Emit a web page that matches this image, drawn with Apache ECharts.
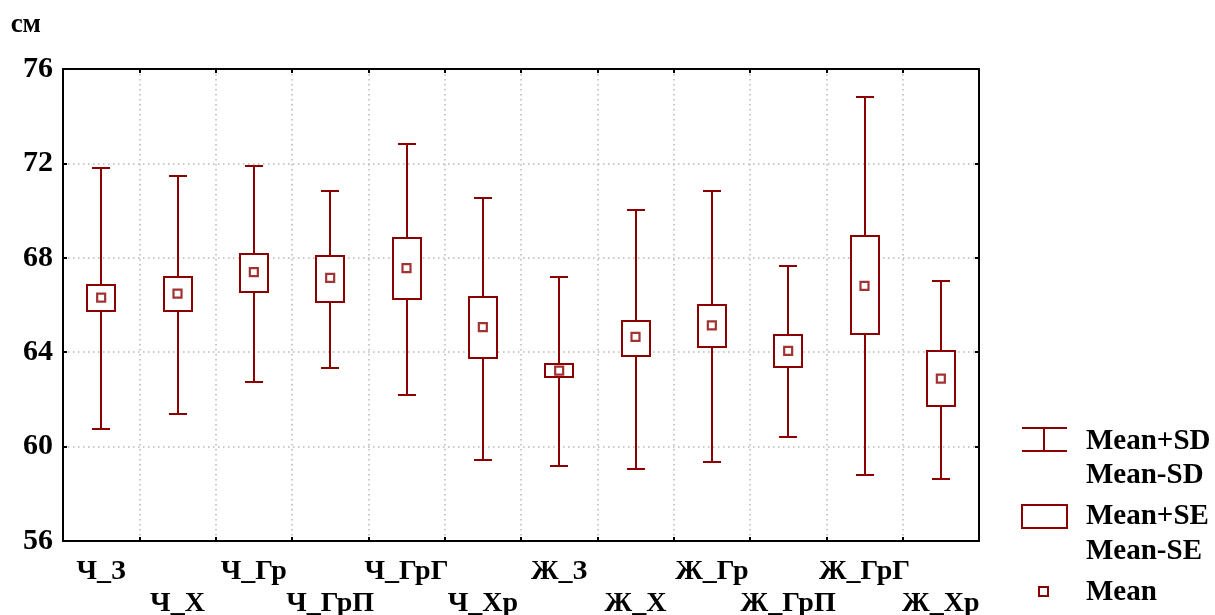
<!DOCTYPE html>
<html>
<head>
<meta charset="utf-8">
<script src="https://cdn.jsdelivr.net/npm/echarts@6/dist/echarts.min.js"></script>
<style>
html,body{margin:0;padding:0;background:#fff;}
#chart{width:1215px;height:615px;}
</style>
</head>
<body>
<div id="chart"></div>
<script>
const categories = ['Ч_З','Ч_Х','Ч_Гр','Ч_ГрП','Ч_ГрГ','Ч_Хр','Ж_З','Ж_Х','Ж_Гр','Ж_ГрП','Ж_ГрГ','Ж_Хр'];
const meanVals = [66.31,66.48,67.39,67.15,67.56,65.06,63.22,64.65,65.14,64.06,66.81,62.88];
const seLow    = [65.76,65.76,66.53,66.12,66.27,63.77,62.94,63.86,64.20,63.37,64.78,61.70];
const seHigh   = [66.84,67.18,68.16,68.08,68.83,66.33,63.51,65.34,65.99,64.75,68.93,64.07];
const sdLow    = [60.74,61.40,62.74,63.31,62.19,59.45,59.18,59.07,59.33,60.39,58.78,58.62];
const sdHigh   = [71.79,71.48,71.89,70.84,72.81,70.53,67.19,70.03,70.82,67.66,74.80,67.01];
const yMin = 56, yMax = 76, yStep = 4;
const unitLabel = 'см';
const legendLabels = ['Mean+SD','Mean-SD','Mean+SE','Mean-SE','Mean'];

const C = '#8B0000';
const FONT = '"Liberation Serif","Times New Roman",serif';

const chart = echarts.init(document.getElementById('chart'), null, {renderer:'canvas'});

const sdData = categories.map((c,i)=>[i, sdLow[i], sdHigh[i]]);
const seData = categories.map((c,i)=>[i, seLow[i], seHigh[i]]);

const gridLine = {show:true, lineStyle:{color:'#b8b8b8', width:1.5, type:[1.5,3.5]}};
const R = v => Math.round(v);

const option = {
  animation:false,
  backgroundColor:'#fff',
  grid:{left:63, right:236, top:69, bottom:74, containLabel:false, outerBoundsMode:'none'},
  xAxis:[{
    type:'category', data:categories, position:'bottom', boundaryGap:true,
    axisLine:{show:true, lineStyle:{color:'#000', width:2}},
    axisTick:{show:true, inside:true, length:4, lineStyle:{color:'#000', width:2}},
    splitLine:gridLine,
    axisLabel:{interval:0, color:'#000', fontFamily:FONT, fontWeight:'bold', fontSize:28,
      lineHeight:32, margin:15,
      formatter:(v,i)=> (i%2 ? '\n'+v : v)}
  },{
    type:'category', data:categories, position:'top', boundaryGap:true,
    axisLine:{show:true, lineStyle:{color:'#000', width:2}},
    axisTick:{show:true, inside:true, length:4, lineStyle:{color:'#000', width:2}},
    axisLabel:{show:false}, splitLine:{show:false}
  }],
  yAxis:[{
    type:'value', min:yMin, max:yMax, interval:yStep, position:'left',
    name:unitLabel, nameLocation:'end', nameGap:30,
    nameTextStyle:{color:'#000', fontFamily:FONT, fontWeight:'bold', fontSize:27, align:'right', padding:[0,22,0,0]},
    axisLine:{show:true, lineStyle:{color:'#000', width:2}},
    axisTick:{show:true, inside:true, length:4, lineStyle:{color:'#000', width:2}},
    splitLine:gridLine,
    axisLabel:{color:'#000', fontFamily:FONT, fontWeight:'bold', fontSize:30, margin:10}
  },{
    type:'value', min:yMin, max:yMax, interval:yStep, position:'right',
    axisLine:{show:true, lineStyle:{color:'#000', width:2}},
    axisTick:{show:true, inside:true, length:4, lineStyle:{color:'#000', width:2}},
    axisLabel:{show:false}, splitLine:{show:false}
  }],
  series:[{
    type:'custom', name:'SD', xAxisIndex:0, yAxisIndex:0, z:2,
    data:sdData, encode:{x:0, y:[1,2]},
    renderItem:(params, api)=>{
      const x = api.value(0);
      const lo = api.coord([x, api.value(1)]);
      const hi = api.coord([x, api.value(2)]);
      const cx = R(lo[0]), ly = R(lo[1]), hy = R(hi[1]);
      const hw = 9;
      const st = {stroke:C, lineWidth:2};
      return {type:'group', children:[
        {type:'line', shape:{x1:cx, y1:ly, x2:cx, y2:hy}, style:st},
        {type:'line', shape:{x1:cx-hw, y1:ly, x2:cx+hw, y2:ly}, style:st},
        {type:'line', shape:{x1:cx-hw, y1:hy, x2:cx+hw, y2:hy}, style:st}
      ]};
    }
  },{
    type:'custom', name:'SE', xAxisIndex:0, yAxisIndex:0, z:3,
    data:seData, encode:{x:0, y:[1,2]},
    renderItem:(params, api)=>{
      const x = api.value(0);
      const lo = api.coord([x, api.value(1)]);
      const hi = api.coord([x, api.value(2)]);
      const cx = R(lo[0]), ly = R(lo[1]), hy = R(hi[1]);
      const hw = 14;
      return {type:'rect', shape:{x:cx-hw, y:hy, width:hw*2, height:ly-hy},
        style:{fill:'#fff', stroke:C, lineWidth:2}};
    }
  },{
    type:'scatter', name:'Mean', xAxisIndex:0, yAxisIndex:0, z:4,
    data:meanVals, symbol:'rect', symbolSize:8,
    itemStyle:{color:'#fff', borderColor:C, borderWidth:2.2}
  }],
  graphic:[
    {type:'line', shape:{x1:1022,y1:428,x2:1067,y2:428}, style:{stroke:C, lineWidth:2}},
    {type:'line', shape:{x1:1022,y1:451,x2:1067,y2:451}, style:{stroke:C, lineWidth:2}},
    {type:'line', shape:{x1:1044,y1:428,x2:1044,y2:451}, style:{stroke:C, lineWidth:2}},
    {type:'rect', shape:{x:1022,y:505,width:45,height:23}, style:{fill:'#fff', stroke:C, lineWidth:2}},
    {type:'rect', shape:{x:1039,y:587,width:9,height:9}, style:{fill:'#fff', stroke:C, lineWidth:2}},
    {type:'text', left:1086, top:427, style:{text:legendLabels[0], font:'bold 29px '+FONT, fill:'#000'}},
    {type:'text', left:1086, top:461, style:{text:legendLabels[1], font:'bold 29px '+FONT, fill:'#000'}},
    {type:'text', left:1086, top:502, style:{text:legendLabels[2], font:'bold 29px '+FONT, fill:'#000'}},
    {type:'text', left:1086, top:537, style:{text:legendLabels[3], font:'bold 29px '+FONT, fill:'#000'}},
    {type:'text', left:1086, top:578, style:{text:legendLabels[4], font:'bold 29px '+FONT, fill:'#000'}}
  ]
};
chart.setOption(option);
</script>
</body>
</html>
